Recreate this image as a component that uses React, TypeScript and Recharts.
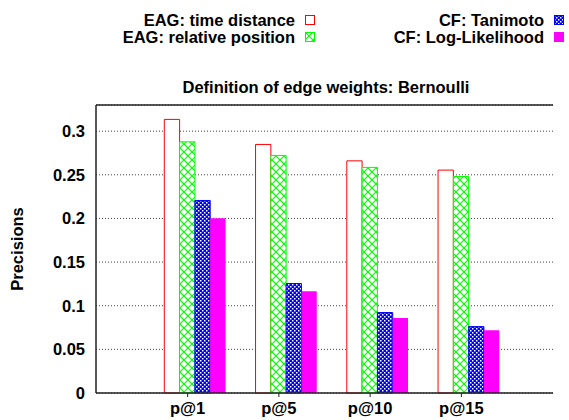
import React from 'react';
import {
  BarChart,
  Bar,
  XAxis,
  YAxis,
  CartesianGrid,
  ReferenceLine,
} from 'recharts';

// values
const categories = ['p@1', 'p@5', 'p@10', 'p@15'];
const timeDistance = [0.3135, 0.2848, 0.266, 0.2554];
const relativePosition = [0.2878, 0.2722, 0.2585, 0.2481];
const tanimoto = [0.2206, 0.1254, 0.0922, 0.0761];
const logLikelihood = [0.2003, 0.1166, 0.086, 0.0719];
const yTicks = [0, 0.05, 0.1, 0.15, 0.2, 0.25, 0.3];

const FONT = '"Liberation Sans", Arial, Helvetica, sans-serif';
const FS = 16.5;

const chartData = categories.map((name, i) => ({
  name,
  time: timeDistance[i],
  rel: relativePosition[i],
  tani: tanimoto[i],
  ll: logLikelihood[i],
}));

const legendItems = [
  { label: 'EAG: time distance', fill: '#fff', stroke: '#ff0000', right: 254, top: 20 },
  { label: 'EAG: relative position', fill: 'url(#hatchGreen)', stroke: '#00ff00', right: 254, top: 37 },
  { label: 'CF: Tanimoto', fill: 'url(#checkBlue)', stroke: '#0000ff', right: 5, top: 20 },
  { label: 'CF: Log-Likelihood', fill: '#ff00ff', stroke: '#ff00ff', right: 5, top: 37 },
];

const textStyle = { fill: '#000', fontSize: FS, fontWeight: 'bold', fontFamily: FONT };

const LegendBox = () => (
  <div style={{ position: 'absolute', left: 0, top: 0, width: 569, height: 50 }}>
    {legendItems.map((it) => (
      <div
        key={it.label}
        style={{
          position: 'absolute',
          right: it.right,
          top: it.top - 9,
          height: 18,
          display: 'flex',
          alignItems: 'center',
          fontFamily: FONT,
          fontWeight: 'bold',
          fontSize: FS,
          color: '#000',
          lineHeight: '18px',
          whiteSpace: 'nowrap',
        }}
      >
        <span>{it.label}</span>
        <svg width={10} height={10} style={{ marginLeft: 10 }}>
          <rect x={0.5} y={0.5} width={9} height={9} fill={it.fill} stroke={it.stroke} strokeWidth={1} />
        </svg>
      </div>
    ))}
  </div>
);

export default function App() {
  return (
    <div style={{ position: 'absolute', left: 0, top: 0, width: 569, height: 420, background: '#fff' }}>
      <BarChart
        width={569}
        height={420}
        data={chartData}
        margin={{ top: 105, right: 16, bottom: 0, left: 0 }}
        barGap={0}
        barSize={15.3}
        style={{ fontFamily: FONT }}
      >
        <defs>
          <pattern id="hatchGreen" patternUnits="userSpaceOnUse" width={8} height={8}>
            <rect width={8} height={8} fill="#fff" />
            <path d="M0,0 L8,8 M8,0 L0,8" stroke="#00ff00" strokeWidth={1.2} />
          </pattern>
          <pattern id="checkBlue" patternUnits="userSpaceOnUse" width={4} height={4}>
            <rect width={4} height={4} fill="#0000ff" />
            <rect x={0} y={0} width={1.5} height={1.5} fill="#fff" />
            <rect x={2} y={2} width={1.5} height={1.5} fill="#fff" />
          </pattern>
        </defs>
        <CartesianGrid vertical={false} stroke="#444" strokeDasharray="1 2" />
        <XAxis
          dataKey="name"
          padding={{ left: 46, right: 46 }}
          height={27}
          tickSize={4}
          tickMargin={5}
          axisLine={{ stroke: '#222', strokeWidth: 1.5 }}
          tickLine={{ stroke: '#222' }}
          tick={textStyle}
        />
        <YAxis
          width={96}
          domain={[0, 0.33]}
          ticks={yTicks}
          tickSize={0}
          tickMargin={11}
          axisLine={{ stroke: '#222', strokeWidth: 1.5 }}
          tickLine={false}
          tick={textStyle}
          label={{
            value: 'Precisions',
            angle: -90,
            position: 'center',
            dx: -31,
            style: textStyle,
          }}
        />
        <YAxis
          yAxisId="r"
          orientation="right"
          width={0}
          domain={[0, 0.33]}
          ticks={yTicks}
          mirror
          tickSize={4}
          tickFormatter={() => ''}
          axisLine={{ stroke: '#222', strokeWidth: 1.5 }}
          tickLine={{ stroke: '#222' }}
        />
        <ReferenceLine y={0.33} stroke="#222" strokeWidth={1.5} />
        <Bar dataKey="pad" fill="none" legendType="none" isAnimationActive={false} />
        <Bar dataKey="time" fill="#fff" stroke="#ff0000" strokeWidth={1} isAnimationActive={false} />
        <Bar dataKey="rel" fill="url(#hatchGreen)" stroke="#00ff00" strokeWidth={1} isAnimationActive={false} />
        <Bar dataKey="tani" fill="url(#checkBlue)" stroke="#0000ff" strokeWidth={1} isAnimationActive={false} />
        <Bar dataKey="ll" fill="#ff00ff" isAnimationActive={false} />
      </BarChart>
      <LegendBox />
      <div
        style={{
          position: 'absolute',
          left: 0,
          width: 652,
          top: 78,
          textAlign: 'center',
          fontFamily: FONT,
          fontWeight: 'bold',
          fontSize: FS,
          color: '#000',
        }}
      >
        Definition of edge weights: Bernoulli
      </div>
    </div>
  );
}
